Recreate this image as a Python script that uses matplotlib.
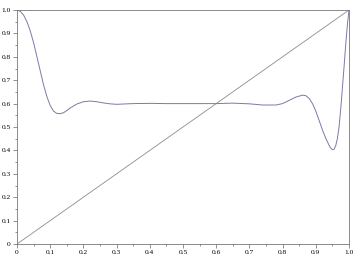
import matplotlib
matplotlib.use("Agg")
import matplotlib.pyplot as plt
from matplotlib.ticker import MultipleLocator

curve_x = [0.0, 0.01, 0.02, 0.03, 0.04, 0.05, 0.06, 0.07, 0.08, 0.09, 0.10, 0.11, 0.12, 0.13,
           0.14, 0.15, 0.16, 0.18, 0.20, 0.22, 0.24, 0.26, 0.28, 0.30, 0.35, 0.40, 0.45, 0.50,
           0.55, 0.60, 0.65, 0.70, 0.74, 0.78, 0.80, 0.82, 0.84, 0.86, 0.87, 0.88, 0.89, 0.90,
           0.91, 0.92, 0.93, 0.94, 0.945, 0.95, 0.955, 0.96, 0.965, 0.97, 0.975, 0.98, 0.985,
           0.99, 0.995, 1.0]
curve_y = [1.0, 0.994, 0.978, 0.95, 0.91, 0.86, 0.80, 0.74, 0.68, 0.63, 0.592, 0.568, 0.558, 0.557,
           0.561, 0.570, 0.581, 0.598, 0.608, 0.611, 0.608, 0.603, 0.599, 0.597, 0.600, 0.601, 0.600, 0.600,
           0.600, 0.600, 0.602, 0.599, 0.594, 0.594, 0.600, 0.614, 0.628, 0.636, 0.634, 0.622, 0.600, 0.568,
           0.528, 0.487, 0.452, 0.422, 0.410, 0.403, 0.405, 0.420, 0.450, 0.500, 0.575, 0.665, 0.755,
           0.850, 0.935, 1.0]
diag_x = [0.0, 1.0]
diag_y = [0.0, 1.0]
ticks = [0.0, 0.1, 0.2, 0.3, 0.4, 0.5, 0.6, 0.7, 0.8, 0.9, 1.0]
tick_labels = ["0", "0.1", "0.2", "0.3", "0.4", "0.5", "0.6", "0.7", "0.8", "0.9", "1.0"]

fig = plt.figure(figsize=(3.54, 2.67), dpi=100)
ax = fig.add_axes([17/354, 1 - 244/267, 332/354, 234/267])
ax.plot(diag_x, diag_y, color="#8c8c8c", lw=0.6)
ax.plot(curve_x, curve_y, color="#7a7aa8", lw=0.7, solid_joinstyle="round")
ax.set_xlim(0, 1)
ax.set_ylim(0, 1)
ax.set_xticks(ticks)
ax.set_xticklabels(tick_labels)
ax.set_yticks(ticks)
ax.set_yticklabels(tick_labels)
ax.xaxis.set_minor_locator(MultipleLocator(0.05))
ax.yaxis.set_minor_locator(MultipleLocator(0.05))
ax.tick_params(which="major", direction="out", length=3, width=0.5, color="#666666",
               labelsize=5.3, pad=1.5)
ax.tick_params(which="minor", direction="out", length=1.5, width=0.5, color="#666666")
for lab in ax.get_xticklabels() + ax.get_yticklabels():
    lab.set_family("Liberation Serif")
for s in ax.spines.values():
    s.set_linewidth(0.6)
    s.set_color("#777777")
fig.savefig("out.png", dpi=100)
